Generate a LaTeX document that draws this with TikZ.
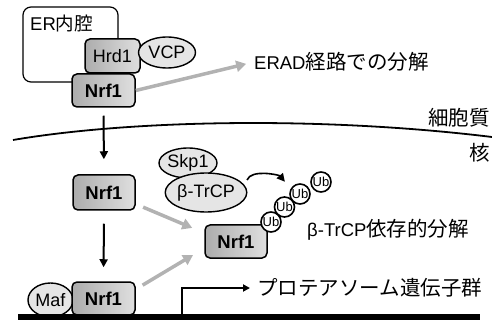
\documentclass[tikz,border=0pt]{standalone}
\usepackage{fontspec}
\setmainfont{Liberation Sans}
\newfontfamily\jpfont{Noto Sans CJK JP}
\usetikzlibrary{arrows.meta,shapes.geometric}
\newcommand\fsz[1]{\fontsize{#1}{#1}\selectfont}
\newcommand\jp[1]{{\jpfont\fsz{20.5}#1}}
\begin{document}
\begin{tikzpicture}[x=1pt,y=-1pt,
  prot/.style={draw, line width=1.5pt, rounded corners=5pt, left color=gray!65, middle color=gray!8, right color=gray!25, inner sep=0pt, font=\fsz{18.5}\bfseries},
  protr/.style={prot, font=\fsz{18}},
  oval/.style={draw, ellipse, line width=1.4pt, fill=gray!20, inner sep=0pt, font=\fsz{18}},
  ub/.style={draw, circle, line width=1.6pt, fill=white, minimum size=20pt, inner sep=0pt, font=\fsz{13}},
  lbl/.style={inner sep=0pt, font=\fsz{18.5}},
  garrow/.style={draw=gray!60, line width=3.5pt, -{Triangle[length=10pt,width=11pt]}},
  barrow/.style={draw=black, line width=2pt, -{Triangle[length=8pt,width=8pt]}}]
\useasboundingbox (0,0) rectangle (492,320);
% ER
\node[draw, rounded corners=8pt, line width=1.2pt, fill=white, minimum width=95pt, minimum height=75pt] (er) at (70.5,44.5) {};
\node[lbl, anchor=west] (erlbl) at (30,23) {ER{\jpfont\fsz{18.5}内腔}};
\node[protr, minimum width=55pt, minimum height=34pt] (hrd) at (112.5,56) {Hrd1};
\node[oval, minimum width=57pt, minimum height=31pt] (vcp) at (167,52.5) {VCP};
\node[prot, minimum width=63pt, minimum height=33pt] (nrfA) at (103.5,90.5) {Nrf1};
% labels
\node[lbl, anchor=west] (erad) at (254,62) {ERAD\jp{経路での分解}};
\node[lbl, anchor=east] (cyto) at (490,118) {\jp{細胞質}};
\node[lbl, anchor=east] (nuc) at (490,153) {\jp{核}};
% membrane
\draw[line width=1.8pt] (13,140) .. controls (130,120) and (320,116) .. (492,137);
% nucleus
\node[prot, minimum width=62pt, minimum height=35pt] (nrfB) at (104,192.5) {Nrf1};
\node[oval, minimum width=45pt, minimum height=34pt] (maf) at (50.5,300) {Maf};
\node[prot, minimum width=63pt, minimum height=33pt] (nrfC) at (103.5,298.5) {Nrf1};
\node[oval, minimum width=50pt, minimum height=30pt] (skp) at (188,163) {Skp1};
\node[oval, minimum width=72pt, minimum height=39pt] (btrcp) at (206,192.5) {β-TrCP};
\node[prot, minimum width=62pt, minimum height=33pt] (nrfD) at (236,241.5) {Nrf1};
\node[ub] (ub1) at (271,222) {Ub};
\node[ub] (ub2) at (284.5,207) {Ub};
\node[ub] (ub3) at (300,194) {Ub};
\node[ub] (ub4) at (321,182) {Ub};
\node[lbl, anchor=west] (btd) at (307,230) {β-TrCP\jp{依存的分解}};
\node[lbl, anchor=west] (prg) at (257,288) {\jp{プロテアソーム遺伝子群}};
% DNA
\draw[line width=6pt] (18,317) -- (480,317);
\coordinate (tss) at (182,314);
\draw[line width=2pt, -{Triangle[length=7pt,width=7pt]}, shorten >=7pt] (tss) |- (prg.west);
% arrows
\draw[garrow, shorten >=8pt] (nrfA.east) -- (erad.west);
\draw[barrow, shorten <=8pt, shorten >=15pt] (nrfA.south) -- (nrfB.north);
\draw[barrow, shorten <=13pt, shorten >=14pt] (nrfB.south) -- (nrfC.north);
\draw[garrow, shorten <=8pt, shorten >=13pt] (nrfB.-20) -- (nrfD.165);
\draw[garrow, shorten <=8pt, shorten >=13pt] (nrfC.16) -- (nrfD.192);
\draw[barrow, line width=1.6pt, shorten <=6pt, shorten >=9pt] (btrcp.10) to[out=70, in=130] (ub3.150);
\end{tikzpicture}
\end{document}
